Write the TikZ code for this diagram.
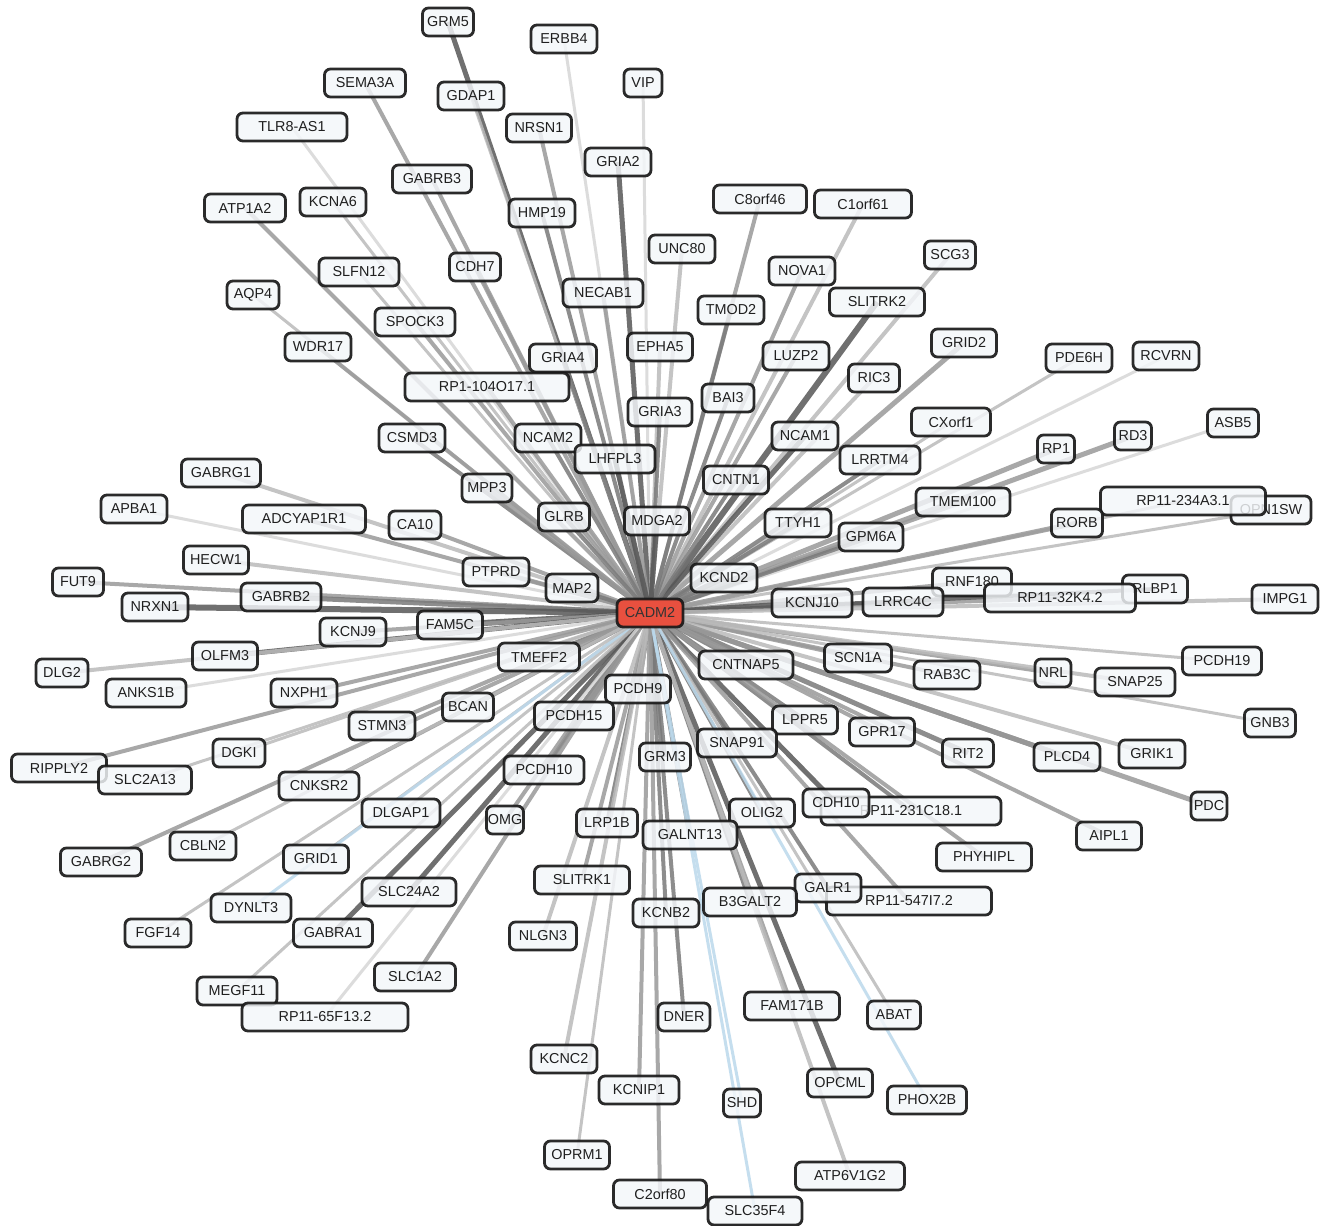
\documentclass[tikz,border=0pt]{standalone}
\usepackage{fontspec}
\newfontfamily\genefont{Liberation Sans}
\pgfdeclarelayer{bg}
\pgfsetlayers{bg,main}
\definecolor{nodefill}{HTML}{F4F7FA}
\definecolor{hubfill}{HTML}{E8503F}
\definecolor{linkblue}{HTML}{BCD9EC}
\tikzset{
  gene/.style={draw=black!90, line width=2.8pt, rounded corners=6pt,
    fill=nodefill, fill opacity=0.82, text opacity=1, draw opacity=0.92,
    minimum height=28pt, inner sep=0pt, text=black!88,
    font=\genefont\fontsize{14.4}{16}\selectfont},
  hub/.style={gene, fill=hubfill, fill opacity=1, text=black!80},
  eD/.style={draw=black!66},
  eM/.style={draw=black!52},
  eN/.style={draw=black!40},
  eL/.style={draw=black!27},
  eV/.style={draw=black!16},
  eB/.style={draw=linkblue},
}
% \gene{name}{x}{y}{outer width}{label}
\newcommand\gene[5]{\node[gene, minimum width={#4pt-3pt}] (#1) at (#2,#3) {#5};}
\begin{document}
\begin{tikzpicture}[x=1pt,y=-1pt]
\useasboundingbox (0,0) rectangle (1334,1226);

\node[hub, minimum width=66pt] (cadm) at (650,613) {CADM2};

\gene{grm5}{448}{22}{54}{GRM5}
\gene{erbb4}{564}{39}{69}{ERBB4}
\gene{vip}{643}{83}{41}{VIP}
\gene{sema3a}{365}{83}{84}{SEMA3A}
\gene{gdap1}{471}{96}{69}{GDAP1}
\gene{tlr8}{292}{127}{113}{TLR8-AS1}
\gene{nrsn1}{539}{128}{68}{NRSN1}
\gene{gria2}{618}{162}{69}{GRIA2}
\gene{gabrb3}{432}{179}{82}{GABRB3}
\gene{atp1a2}{245}{208}{84}{ATP1A2}
\gene{kcna6}{333}{202}{69}{KCNA6}
\gene{hmp19}{542}{213}{69}{HMP19}
\gene{c8orf46}{760}{199}{96}{C8orf46}
\gene{c1orf61}{863}{204}{100}{C1orf61}
\gene{unc80}{682}{249}{69}{UNC80}
\gene{cdh7}{475}{267}{54}{CDH7}
\gene{slfn12}{359}{272}{83}{SLFN12}
\gene{aqp4}{253}{295}{55}{AQP4}
\gene{nova1}{802}{271}{69}{NOVA1}
\gene{scg3}{950}{255}{54}{SCG3}
\gene{necab1}{603}{293}{83}{NECAB1}
\gene{tmod2}{731}{310}{69}{TMOD2}
\gene{slitrk2}{877}{302}{98}{SLITRK2}
\gene{spock3}{415}{322}{83}{SPOCK3}
\gene{wdr17}{318}{347}{69}{WDR17}
\gene{grid2}{964}{343}{68}{GRID2}
\gene{epha5}{660}{347}{68}{EPHA5}
\gene{luzp2}{796}{356}{69}{LUZP2}
\gene{gria4}{563}{358}{70}{GRIA4}
\gene{pde6h}{1079}{358}{69}{PDE6H}
\gene{rcvrn}{1166}{356}{69}{RCVRN}
\gene{rp1x}{487}{387}{167}{RP1-104O17.1}
\gene{ric3}{874}{378}{54}{RIC3}
\gene{bai3}{728}{398}{55}{BAI3}
\gene{gria3}{660}{412}{67}{GRIA3}
\gene{asb5}{1233}{423}{54}{ASB5}
\gene{cxorf1}{951}{422}{82}{CXorf1}
\gene{csmd3}{412}{438}{69}{CSMD3}
\gene{ncam2}{548}{438}{69}{NCAM2}
\gene{ncam1}{805}{436}{69}{NCAM1}
\gene{rd3}{1133}{436}{40}{RD3}
\gene{rp1}{1056}{449}{40}{RP1}
\gene{lhfpl3}{615}{459}{83}{LHFPL3}
\gene{lrrtm4}{880}{460}{83}{LRRTM4}
\gene{gabrg1}{221}{473}{82}{GABRG1}
\gene{cntn1}{736}{480}{68}{CNTN1}
\gene{mpp3}{487}{488}{53}{MPP3}
\gene{tmem100}{963}{502}{97}{TMEM100}
\gene{opn1sw}{1271}{510}{83}{OPN1SW}
\gene{rp234}{1183}{501}{168}{RP11-234A3.1}
\gene{rorb}{1077}{523}{54}{RORB}
\gene{apba1}{134}{509}{69}{APBA1}
\gene{adcyap}{304}{519}{126}{ADCYAP1R1}
\gene{ca10}{415}{525}{55}{CA10}
\gene{glrb}{564}{517}{54}{GLRB}
\gene{mdga2}{657}{521}{68}{MDGA2}
\gene{ttyh1}{798}{523}{69}{TTYH1}
\gene{gpm6a}{871}{537}{67}{GPM6A}
\gene{hecw1}{216}{560}{68}{HECW1}
\gene{ptprd}{496}{572}{69}{PTPRD}
\gene{map2}{572}{588}{55}{MAP2}
\gene{kcnd2}{724}{578}{69}{KCND2}
\gene{rnf180}{972}{582}{82}{RNF180}
\gene{fut9}{78}{582}{54}{FUT9}
\gene{gabrb2}{281}{597}{83}{GABRB2}
\gene{nrxn1}{155}{607}{69}{NRXN1}
\gene{kcnj10}{812}{603}{83}{KCNJ10}
\gene{lrrc4c}{903}{602}{83}{LRRC4C}
\gene{rlbp1}{1155}{589}{68}{RLBP1}
\gene{rp32}{1060}{598}{154}{RP11-32K4.2}
\gene{impg1}{1285}{599}{69}{IMPG1}
\gene{fam5c}{450}{625}{68}{FAM5C}
\gene{kcnj9}{353}{632}{69}{KCNJ9}
\gene{olfm3}{225}{656}{68}{OLFM3}
\gene{dlg2}{62}{673}{55}{DLG2}
\gene{tmeff2}{539}{657}{84}{TMEFF2}
\gene{cntnap5}{746}{665}{97}{CNTNAP5}
\gene{scn1a}{858}{658}{70}{SCN1A}
\gene{pcdh19}{1222}{661}{82}{PCDH19}
\gene{rab3c}{947}{675}{69}{RAB3C}
\gene{nrl}{1053}{673}{39}{NRL}
\gene{snap25}{1135}{682}{83}{SNAP25}
\gene{anks1b}{146}{693}{83}{ANKS1B}
\gene{nxph1}{304}{693}{69}{NXPH1}
\gene{pcdh9}{638}{689}{68}{PCDH9}
\gene{bcan}{468}{707}{54}{BCAN}
\gene{pcdh15}{574}{716}{82}{PCDH15}
\gene{gnb3}{1270}{723}{54}{GNB3}
\gene{stmn3}{382}{726}{69}{STMN3}
\gene{lppr5}{805}{720}{68}{LPPR5}
\gene{gpr17}{882}{732}{68}{GPR17}
\gene{snap91}{737}{743}{82}{SNAP91}
\gene{dgki}{239}{753}{55}{DGKI}
\gene{rit2}{968}{753}{54}{RIT2}
\gene{plcd4}{1067}{757}{69}{PLCD4}
\gene{grik1}{1152}{754}{69}{GRIK1}
\gene{grm3}{665}{757}{54}{GRM3}
\gene{ripply2}{59}{768}{98}{RIPPLY2}
\gene{slc2a13}{145}{780}{96}{SLC2A13}
\gene{pcdh10}{544}{770}{83}{PCDH10}
\gene{cnksr2}{319}{786}{83}{CNKSR2}
\gene{pdc}{1209}{806}{39}{PDC}
\gene{rp231}{911}{811}{183}{RP11-231C18.1}
\gene{cdh10}{836}{803}{69}{CDH10}
\gene{dlgap1}{401}{813}{81}{DLGAP1}
\gene{omg}{505}{820}{40}{OMG}
\gene{lrp1b}{607}{823}{64}{LRP1B}
\gene{olig2}{762}{813}{68}{OLIG2}
\gene{galnt13}{690}{835}{97}{GALNT13}
\gene{aipl1}{1109}{836}{68}{AIPL1}
\gene{gabrg2}{101}{862}{84}{GABRG2}
\gene{cbln2}{203}{846}{69}{CBLN2}
\gene{grid1}{316}{859}{68}{GRID1}
\gene{phyhipl}{984}{857}{98}{PHYHIPL}
\gene{slitrk1}{582}{880}{98}{SLITRK1}
\gene{slc24a2}{409}{892}{97}{SLC24A2}
\gene{rp547}{909}{901}{168}{RP11-547I7.2}
\gene{galr1}{828}{888}{69}{GALR1}
\gene{b3galt2}{750}{902}{96}{B3GALT2}
\gene{kcnb2}{666}{913}{69}{KCNB2}
\gene{dynlt3}{251}{908}{83}{DYNLT3}
\gene{gabra1}{333}{933}{82}{GABRA1}
\gene{fgf14}{158}{933}{69}{FGF14}
\gene{nlgn3}{543}{936}{70}{NLGN3}
\gene{slc1a2}{415}{977}{84}{SLC1A2}
\gene{megf11}{237}{991}{83}{MEGF11}
\gene{rp65}{325}{1017}{169}{RP11-65F13.2}
\gene{fam171b}{792}{1006}{98}{FAM171B}
\gene{abat}{894}{1015}{56}{ABAT}
\gene{dner}{684}{1017}{55}{DNER}
\gene{kcnc2}{564}{1059}{69}{KCNC2}
\gene{kcnip1}{639}{1090}{83}{KCNIP1}
\gene{opcml}{840}{1083}{68}{OPCML}
\gene{shd}{742}{1103}{40}{SHD}
\gene{phox2b}{927}{1100}{82}{PHOX2B}
\gene{oprm1}{577}{1155}{68}{OPRM1}
\gene{atp6v1g2}{850}{1176}{112}{ATP6V1G2}
\gene{c2orf80}{660}{1194}{96}{C2orf80}
\gene{slc35f4}{755}{1211}{97}{SLC35F4}

% white page, then every link from the hub to one gene, all under the boxes
\begin{pgfonlayer}{bg}
\fill[white] (0,0) rectangle (1334,1226);
\foreach \n/\s/\w in {
  grm5/eD/5, erbb4/eV/3, vip/eV/3, sema3a/eN/4, gdap1/eL/3, tlr8/eV/3,
  nrsn1/eN/4, gria2/eD/5, gabrb3/eN/4, atp1a2/eN/4, kcna6/eL/3, hmp19/eM/4,
  c8orf46/eN/4, c1orf61/eL/4, unc80/eL/4, cdh7/eN/4, slfn12/eL/3, aqp4/eL/3,
  nova1/eN/4, scg3/eL/4, necab1/eN/4, tmod2/eM/4, slitrk2/eD/6, spock3/eN/4,
  wdr17/eN/4, grid2/eN/5, epha5/eL/4, luzp2/eN/4, gria4/eM/4, pde6h/eL/3,
  rcvrn/eV/3, rp1x/eN/4, ric3/eL/4, bai3/eM/4, gria3/eM/4, asb5/eV/3,
  cxorf1/eL/3, csmd3/eM/4, ncam2/eM/4, ncam1/eD/5, rd3/eN/5, rp1/eN/5,
  lhfpl3/eD/5, lrrtm4/eM/4, gabrg1/eL/4, cntn1/eM/4, mpp3/eN/4, tmem100/eN/4,
  rp234/eL/3, opn1sw/eL/3, rorb/eN/5, apba1/eV/3, adcyap/eN/4, ca10/eN/4,
  glrb/eM/4, mdga2/eD/5, ttyh1/eM/4, gpm6a/eM/4, hecw1/eL/4, ptprd/eN/4,
  map2/eM/4, kcnd2/eM/5, rnf180/eN/4, fut9/eN/4, gabrb2/eM/5, nrxn1/eD/6,
  kcnj10/eD/6, lrrc4c/eM/4, rp32/eN/4, rlbp1/eD/4, impg1/eL/4, fam5c/eD/6,
  kcnj9/eN/4, olfm3/eD/5, dlg2/eL/4, tmeff2/eM/4, cntnap5/eM/4, scn1a/eN/4,
  pcdh19/eL/3, rab3c/eN/4, nrl/eN/4, snap25/eL/4, anks1b/eV/3, nxph1/eN/4,
  pcdh9/eD/5, bcan/eN/4, pcdh15/eM/5, gnb3/eL/3, stmn3/eN/4, lppr5/eM/4,
  gpr17/eN/4, snap91/eM/5, dgki/eL/3, rit2/eM/5, plcd4/eM/5, grik1/eL/4,
  grm3/eM/4, ripply2/eN/4, slc2a13/eL/3, pcdh10/eM/4, cnksr2/eN/4, pdc/eN/5,
  cdh10/eD/5, rp231/eM/4, dlgap1/eL/3, omg/eN/4, lrp1b/eM/4, olig2/eM/4,
  galnt13/eM/5, aipl1/eN/4, gabrg2/eN/4, cbln2/eL/3, grid1/eL/3, phyhipl/eN/4,
  slitrk1/eN/4, slc24a2/eD/5, galr1/eM/4, rp547/eN/4, b3galt2/eM/4, kcnb2/eM/4,
  dynlt3/eB/3, gabra1/eD/5, fgf14/eL/3, nlgn3/eL/4, slc1a2/eN/4, megf11/eL/3,
  rp65/eV/3, fam171b/eN/4, abat/eL/3, dner/eM/4, kcnc2/eL/4, kcnip1/eN/4,
  opcml/eD/5, shd/eB/3, phox2b/eB/3, oprm1/eL/3, atp6v1g2/eL/4, c2orf80/eN/4,
  slc35f4/eB/3}
  \draw[\s, line width=\w pt, draw opacity=0.85] (cadm.center) -- (\n.center);
\end{pgfonlayer}
\end{tikzpicture}
\end{document}
